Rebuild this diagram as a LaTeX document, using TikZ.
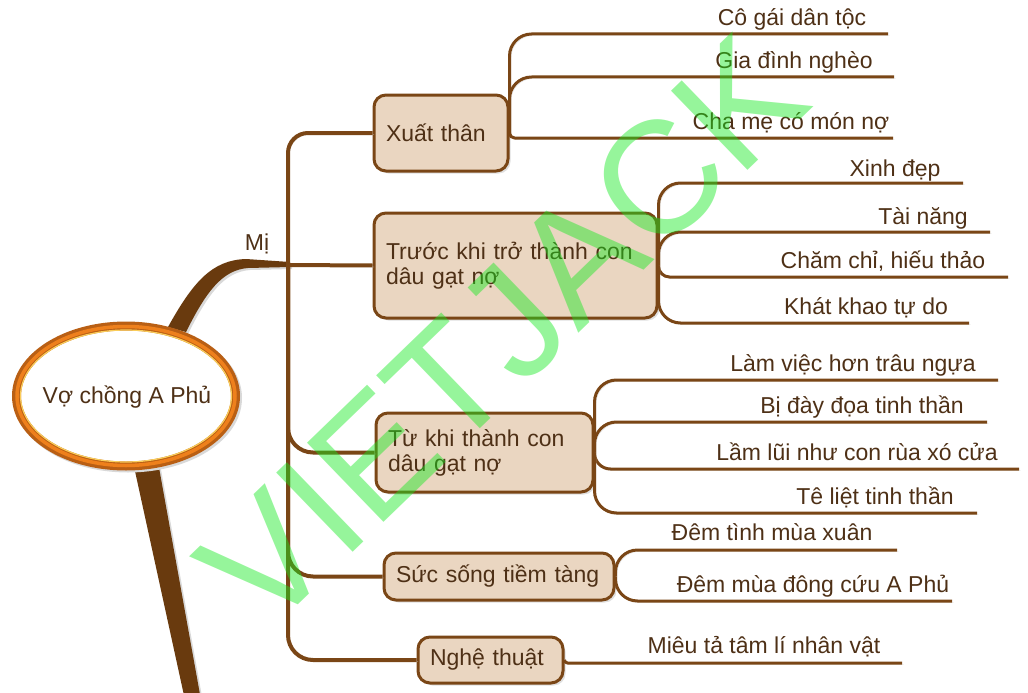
\documentclass[tikz,border=0pt]{standalone}
\usepackage{fontspec}
\setmainfont{Liberation Sans}
\usetikzlibrary{shadows}
\definecolor{mmline}{RGB}{122,70,22}
\definecolor{mmfill}{RGB}{234,214,193}
\definecolor{mmtext}{RGB}{78,48,22}
\definecolor{mmtrunk}{RGB}{105,58,14}
\definecolor{mmring}{RGB}{185,95,20}
\definecolor{mmorange}{RGB}{238,128,28}
\definecolor{mmgold}{RGB}{250,205,90}
\definecolor{mmmark}{RGB}{22,233,33}
\tikzset{
limb/.style={draw=mmline, line width=4pt, line join=round, preaction={draw=black!15, transform canvas={xshift=1.5pt,yshift=-1.5pt}}}, % branch from the hub to a topic box
twig/.style={draw=mmline, line width=3pt, line join=round, preaction={draw=black!15, transform canvas={xshift=1.5pt,yshift=-1.5pt}}}, % underline of a leaf
trunk/.style={fill=mmtrunk, preaction={fill=black!15, transform canvas={xshift=2pt,yshift=-2pt}}}, % thick stems of the root
topic/.style={draw=mmline, line width=3pt, fill=mmfill, rounded corners=12pt, align=left, inner xsep=12pt, inner ysep=0pt, text=mmtext, drop shadow={shadow xshift=2.5pt, shadow yshift=-2.5pt, fill=black!25}}, % topic boxes
leaf/.style={text=mmtext, inner sep=0pt, anchor=base}, % leaf texts
wmark/.style={text=mmmark, text opacity=0.45, inner sep=0pt, rotate=44, font=\fontsize{160}{160}\selectfont}, % watermark
}
\begin{document}
\begin{tikzpicture}[x=1pt, y=-1pt, font=\fontsize{23}{25}\selectfont]
\useasboundingbox (0,0) rectangle (1028,693);
\coordinate (hub) at (288,265);
\coordinate (rootc) at (126,396);

% stems of the root
\fill[trunk] (168,327) .. controls (193,282) and (212,260) .. (246,259) -- (290,262) -- (290,267) -- (248,268) .. controls (222,270) and (206,292) .. (186,332) -- cycle;
\fill[trunk] (133,462) -- (158,462) -- (201,700) -- (185,700) -- cycle;

% root
\path[fill=white, draw=mmring, line width=9pt, preaction={draw=black!15, line width=9pt, transform canvas={xshift=2pt,yshift=-2pt}}] (rootc) ellipse [x radius=109.5, y radius=70];
\draw[mmorange, line width=3.5pt] (rootc) ellipse [x radius=109, y radius=69.5];
\draw[mmgold, line width=1.2pt] (rootc) ellipse [x radius=105.5, y radius=66];
\node[text=mmtext] (root) at (127,397) {Vợ chồng A Phủ};
\node[leaf] (mi) at (257,250) {Mị};

% topics
\node[topic, text width=110pt, minimum height=76pt] (xt) at (441,133) {Xuất thân};
\node[topic, text width=259pt, minimum height=105pt] (tr) at (515.5,265.5) {Trước khi trở thành con\\dâu gạt nợ};
\node[topic, text width=193pt, minimum height=79pt] (tu) at (484.5,452.5) {Từ khi thành con\\dâu gạt nợ};
\node[topic, text width=206pt, minimum height=47pt] (ss) at (499,576.5) {Sức sống tiềm tàng};
\node[topic, text width=121pt, minimum height=46pt] (nt) at (490.5,660) {Nghệ thuật};

\draw[limb, rounded corners=20pt] (hub) |- (xt.west);
\draw[limb] (hub) -- (tr.west);
\draw[limb, rounded corners=25pt] (hub) |- (tu.west);
\draw[limb, rounded corners=25pt] (hub) |- (ss.west);
\draw[limb, rounded corners=25pt] (hub) |- (nt.west);

% leaves
\node[leaf] (x1) at (792,26) {Cô gái dân tộc};
\node[leaf] (x2) at (794,68) {Gia đình nghèo};
\node[leaf] (x3) at (791,129) {Cha mẹ có món nợ};
\coordinate (x1e) at (888,34);
\coordinate (x2e) at (894,77);
\coordinate (x3e) at (893,138);
\draw[twig, rounded corners=22pt] (xt.east) |- (x1e);
\draw[twig, rounded corners=22pt] (xt.east) |- (x2e);
\draw[twig, rounded corners=5pt] (xt.east) |- (x3e);

\node[leaf] (t1) at (895,176) {Xinh đẹp};
\node[leaf] (t2) at (923,224) {Tài năng};
\node[leaf] (t3) at (883,268) {Chăm chỉ, hiếu thảo};
\node[leaf] (t4) at (866,314) {Khát khao tự do};
\coordinate (t1e) at (963,183);
\coordinate (t2e) at (990,232);
\coordinate (t3e) at (1008,277);
\coordinate (t4e) at (969,323);
\draw[twig, rounded corners=22pt] (tr.east) |- (t1e);
\draw[twig, rounded corners=22pt] (tr.east) |- (t2e);
\draw[twig, rounded corners=11pt] (tr.east) |- (t3e);
\draw[twig, rounded corners=22pt] (tr.east) |- (t4e);

\node[leaf] (u1) at (853,371) {Làm việc hơn trâu ngựa};
\node[leaf] (u2) at (862,413) {Bị đày đọa tinh thần};
\node[leaf] (u3) at (857,460) {Lầm lũi như con rùa xó cửa};
\node[leaf] (u4) at (875,504) {Tê liệt tinh thần};
\coordinate (u1e) at (998,380);
\coordinate (u2e) at (987,422);
\coordinate (u3e) at (1019,469);
\coordinate (u4e) at (977,513);
\draw[twig, rounded corners=22pt] (tu.east) |- (u1e);
\draw[twig, rounded corners=22pt] (tu.east) |- (u2e);
\draw[twig, rounded corners=16pt] (tu.east) |- (u3e);
\draw[twig, rounded corners=22pt] (tu.east) |- (u4e);

\node[leaf] (s1) at (772,540) {Đêm tình mùa xuân};
\node[leaf] (s2) at (813,592) {Đêm mùa đông cứu A Phủ};
\coordinate (s1e) at (897,550);
\coordinate (s2e) at (952,601);
\draw[twig, rounded corners=22pt] (ss.east) |- (s1e);
\draw[twig, rounded corners=22pt] (ss.east) |- (s2e);

\node[leaf] (n1) at (764,653) {Miêu tả tâm lí nhân vật};
\coordinate (n1e) at (902,663);
\draw[twig, rounded corners=3pt] (nt.east) |- (n1e);

% watermark
\node[wmark] (wm) at (502,331) {VIETJACK};
\end{tikzpicture}
\end{document}
